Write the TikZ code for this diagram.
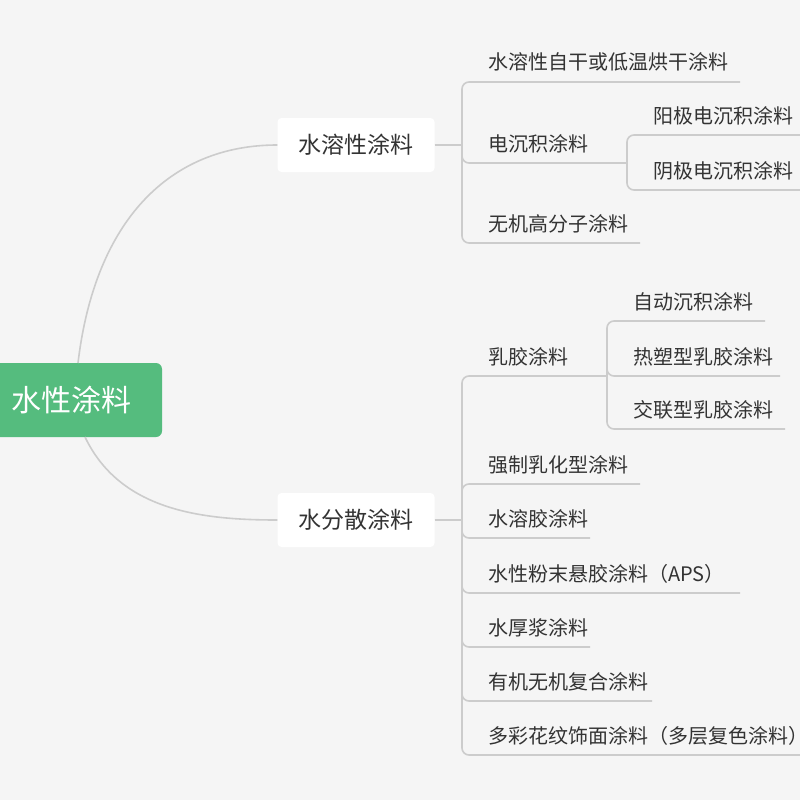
\documentclass[tikz,border=0pt]{standalone}
\usepackage{fontspec}
\setmainfont{Noto Sans CJK SC}
\definecolor{bgcol}{HTML}{F5F5F5}
\definecolor{rootgreen}{HTML}{55BC7E}
\definecolor{linecol}{HTML}{CCCCCC}
\definecolor{textcol}{HTML}{333333}
\begin{document}
\begin{tikzpicture}[x=1pt,y=-1pt,
    root/.style={fill=rootgreen,rounded corners=6pt,text=white,font=\fontsize{30}{33}\selectfont,minimum width=180pt,minimum height=74pt},
    branch/.style={fill=white,rounded corners=4pt,text=textcol,font=\fontsize{23}{26}\selectfont,minimum width=157pt,minimum height=54pt},
    leaf/.style={anchor=base west,text=textcol,font=\fontsize{20}{23}\selectfont,inner sep=0pt},
    conn/.style={draw=linecol,line width=1.6pt},
    uline/.style={draw=linecol,line width=1.6pt,rounded corners=7pt}]
    \fill[bgcol] (0,0) rectangle (800,800);
    \useasboundingbox (0,0) rectangle (800,800);
    \node[root] (root) at (72,400) {};
    \node[text=white,font=\fontsize{30}{33}\selectfont] (roottext) at (71,400) {水性涂料};
    \node[branch] (ws) at (356,145) {水溶性涂料};
    \node[branch] (wd) at (356,520) {水分散涂料};
    \draw[conn] (78,363) .. controls (95,220) and (170,145) .. (ws.west);
    \draw[conn] (85,437) .. controls (120,510) and (200,520) .. (wd.west);
    % water soluble group
    \coordinate (wsb) at (462,145);
    \draw[conn] (ws.east) -- (wsb);
    \foreach \y/\e/\t [count=\i] in {82/740/水溶性自干或低温烘干涂料,163/626/电沉积涂料,243/640/无机高分子涂料}{
        \draw[uline] (wsb) -- (462,\y) -- (\e,\y);
        \node[leaf] (wsl\i) at (488,\y-12) {\t};
    }
    \coordinate (edb) at (627,163);
    \foreach \y/\t [count=\i] in {135/阳极电沉积涂料,190/阴极电沉积涂料}{
        \draw[uline] (edb) -- (627,\y) -- (800,\y);
        \node[leaf] (edl\i) at (653,\y-12) {\t};
    }
    % water dispersed group
    \coordinate (wdb) at (462,520);
    \draw[conn] (wd.east) -- (wdb);
    \foreach \y/\e/\t [count=\i] in {376/606/乳胶涂料,484/640/强制乳化型涂料,538/590/水溶胶涂料,593/740/水性粉末悬胶涂料（APS）,647/590/水厚浆涂料,701/652/有机无机复合涂料,755/800/多彩花纹饰面涂料（多层复色涂料）}{
        \draw[uline] (wdb) -- (462,\y) -- (\e,\y);
        \node[leaf] (wdl\i) at (488,\y-12) {\t};
    }
    \coordinate (lxb) at (607,376);
    \foreach \y/\e/\t [count=\i] in {321/765/自动沉积涂料,376/780/热塑型乳胶涂料,429/785/交联型乳胶涂料}{
        \draw[uline] (lxb) -- (607,\y) -- (\e,\y);
        \node[leaf] (lxl\i) at (633,\y-12) {\t};
    }
\end{tikzpicture}
\end{document}
